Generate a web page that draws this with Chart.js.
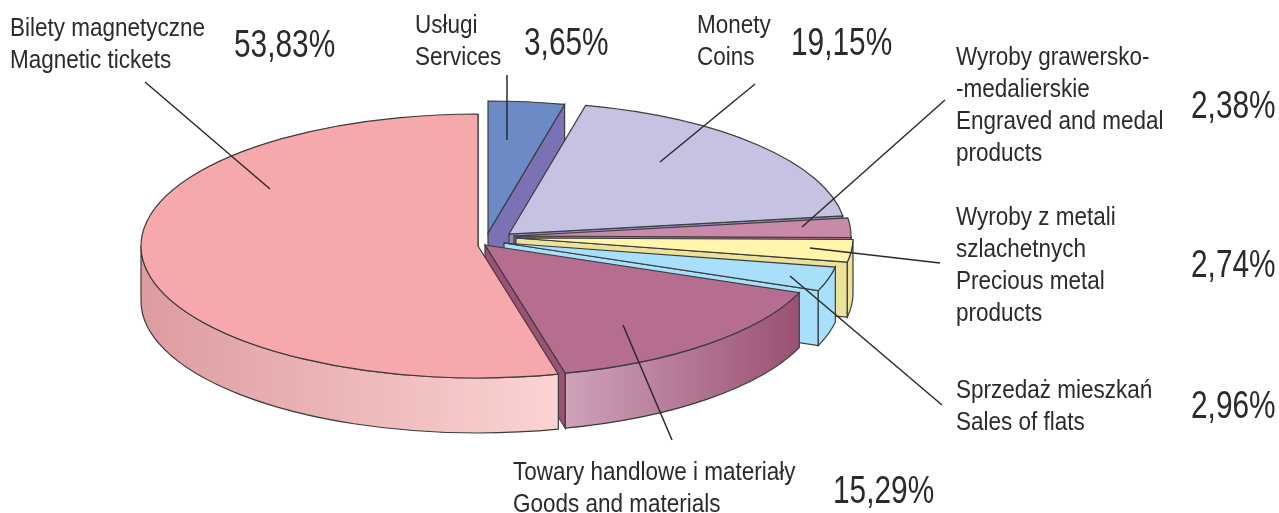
<!DOCTYPE html>
<html lang="pl">
<head>
<meta charset="utf-8">
<title>Struktura przychodów</title>
<script src="https://cdn.jsdelivr.net/npm/chart.js@4"></script>
<style>
  html, body { margin: 0; background: #fff; }
  canvas { display: block; }
</style>
</head>
<body>
<canvas id="pieChart" width="1279" height="513"></canvas>
<script>
// Dane wykresu
const categories = ['Usługi', 'Monety', 'Wyroby grawersko-medalierskie', 'Wyroby z metali szlachetnych', 'Sprzedaż mieszkań', 'Towary handlowe i materiały', 'Bilety magnetyczne'];
const shares = [3.65, 19.15, 2.38, 2.74, 2.96, 15.29, 53.83];
const topColors = ['#6b8ac6', '#c5c3e1', '#c98aa9', '#fff6ab', '#a8e0fb', '#b56d90', '#f7a8ac'];
const faceColors = ['#7a72b5', '#8f8cc4', '#a8688a', '#ece29a', '#a8e0fb', '#9c5276', '#e09a9e'];

// Wysunięcie wycinków (px na ekranie)
const sliceShift = [[10, -13], [31, -12], [36, -10], [38, -8], [26, -3], [7, -1], [0, 0]];

const squash = 132 / 337;   // spłaszczenie koła do elipsy
const depth = 55;           // wysokość bryły
const outline = '#3c3c3c';

// Opisy: wiersze tekstu i procent (indeks z shares)
const labels = [
    { slice: 6, x: 10, y: 35.5, lines: ['Bilety magnetyczne', 'Magnetic tickets'], px: 234, py: 56.5 },
    { slice: 0, x: 415, y: 33, lines: ['Usługi', 'Services'], px: 524, py: 55 },
    { slice: 1, x: 697, y: 33, lines: ['Monety', 'Coins'], px: 791, py: 55 },
    { slice: 2, x: 956, y: 65, lines: ['Wyroby grawersko-', '-medalierskie', 'Engraved and medal', 'products'], px: 1191, py: 118 },
    { slice: 3, x: 956, y: 225, lines: ['Wyroby z metali', 'szlachetnych', 'Precious metal', 'products'], px: 1191, py: 277 },
    { slice: 4, x: 956, y: 398, lines: ['Sprzedaż mieszkań', 'Sales of flats'], px: 1191, py: 418 },
    { slice: 5, x: 513, y: 480, lines: ['Towary handlowe i materiały', 'Goods and materials'], px: 833, py: 503 }
];

// Linie odniesienia
const leaders = [
    [145, 82, 270, 189],
    [507, 75, 507, 140],
    [755, 84, 660, 162],
    [945, 100, 802, 227],
    [810, 248, 940, 263],
    [790, 276, 942, 405],
    [623, 325, 672, 440]
];

// Ścieżka budowana w układzie spłaszczonym, obrys liczony już na ekranie
function squashedPath(ctx, cy, build) {
    ctx.save();
    ctx.translate(0, cy);
    ctx.scale(1, squash);
    ctx.translate(0, -cy);
    ctx.beginPath();
    build();
    ctx.restore();
}

function wallFill(ctx, i, el) {
    if (i === 5 || i === 6) {
        const stops = i === 5 ? ['#cfa2b8', '#9a5074'] : ['#dd9c9f', '#fcd3d3'];
        const fromX = i === 5 ? el.x + 80 : el.x - el.outerRadius;
        const toX = i === 5 ? el.x + 315 : el.x + 80;
        const grad = ctx.createLinearGradient(fromX, 0, toX, 0);
        grad.addColorStop(0, stops[0]);
        grad.addColorStop(1, stops[1]);
        return grad;
    }
    return faceColors[i];
}

// Ściana przy krawędzi końcowej wycinka i ściana zewnętrzna
function drawSides(ctx, i, el) {
    const h = depth / squash;
    const r = el.outerRadius;
    const endX = el.x + Math.cos(el.endAngle) * r;
    const endY = el.y + Math.sin(el.endAngle) * r;

    squashedPath(ctx, el.y, () => {
        ctx.moveTo(el.x, el.y);
        ctx.lineTo(endX, endY);
        ctx.lineTo(endX, endY + h);
        ctx.lineTo(el.x, el.y + h);
        ctx.closePath();
    });
    ctx.fillStyle = faceColors[i];
    ctx.fill();
    ctx.stroke();

    // widoczna jest tylko dolna część obwodu (kąt 0..PI)
    const from = Math.max(el.startAngle, 0);
    const to = Math.min(el.endAngle, Math.PI);
    if (to > from) {
        squashedPath(ctx, el.y, () => {
            ctx.arc(el.x, el.y, r, from, to);
            ctx.lineTo(el.x + Math.cos(to) * r, el.y + Math.sin(to) * r + h);
            ctx.arc(el.x, el.y + h, r, to, from, true);
            ctx.closePath();
        });
        ctx.fillStyle = wallFill(ctx, i, el);
        ctx.fill();
        ctx.stroke();
    }
}

// Tekst zwężony w poziomie, font wąski nie jest dostępny
function narrowText(ctx, text, x, y, squeeze) {
    ctx.save();
    ctx.translate(x, y);
    ctx.scale(squeeze, 1);
    ctx.fillText(text, 0, 0);
    ctx.restore();
}

const pie3d = {
    id: 'pie3d',
    afterDatasetUpdate(chart, args) {
        chart.getDatasetMeta(args.index).data.forEach((el, i) => {
            el.x += sliceShift[i][0];
            el.y += sliceShift[i][1];
        });
    },
    beforeDatasetDraw(chart, args) {
        const ctx = chart.ctx;
        ctx.lineWidth = 1.2;
        ctx.strokeStyle = outline;
        args.meta.data.forEach((el, i) => {
            drawSides(ctx, i, el);

            ctx.save();
            ctx.translate(0, el.y);
            ctx.scale(1, squash);
            ctx.translate(0, -el.y);
            el.draw(ctx, chart.chartArea);
            ctx.restore();

            squashedPath(ctx, el.y, () => {
                ctx.moveTo(el.x, el.y);
                ctx.arc(el.x, el.y, el.outerRadius, el.startAngle, el.endAngle);
                ctx.closePath();
            });
            ctx.stroke();
        });
        return false;
    },
    afterDraw(chart) {
        const ctx = chart.ctx;
        ctx.save();
        ctx.strokeStyle = '#2b2b2b';
        ctx.lineWidth = 1.5;
        leaders.forEach(l => {
            ctx.beginPath();
            ctx.moveTo(l[0], l[1]);
            ctx.lineTo(l[2], l[3]);
            ctx.stroke();
        });
        ctx.fillStyle = '#2b2b2b';
        ctx.textBaseline = 'alphabetic';
        labels.forEach(lab => {
            ctx.font = '26px "Liberation Sans"';
            lab.lines.forEach((t, n) => narrowText(ctx, t, lab.x, lab.y + n * 32, 0.865));
            ctx.font = '38px "Liberation Sans"';
            narrowText(ctx, shares[lab.slice].toFixed(2).replace('.', ',') + '%', lab.px, lab.py, 0.785);
        });
        ctx.restore();
    }
};

new Chart(document.getElementById('pieChart').getContext('2d'), {
    type: 'pie',
    data: {
        labels: categories,
        datasets: [{
            data: shares,
            backgroundColor: topColors,
            borderWidth: 0
        }]
    },
    options: {
        responsive: false,
        animation: false,
        radius: 337,
        layout: { padding: { left: 0, top: 0, right: 323, bottom: 21 } },
        plugins: {
            legend: { display: false },
            tooltip: { enabled: false }
        }
    },
    plugins: [pie3d]
});
</script>
</body>
</html>
